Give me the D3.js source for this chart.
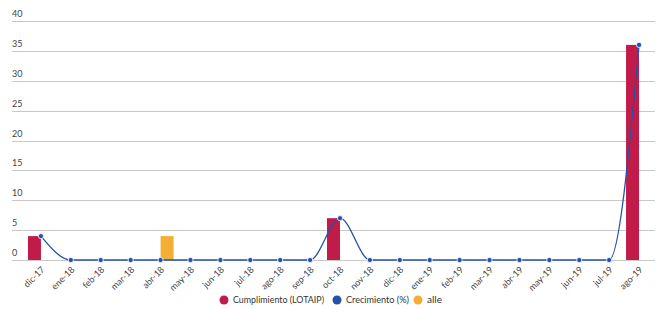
<!DOCTYPE html>
<html>
<head>
<meta charset="utf-8">
<script src="https://cdn.jsdelivr.net/npm/d3@7"></script>
<style>
  body { margin: 0; background: #fff; }
  text { font-family: Lato, "Open Sans", sans-serif; }
</style>
</head>
<body>
<div id="chart"></div>
<script>
const width = 661;
const height = 309;

const months = ["dic-17", "ene-18", "feb-18", "mar-18", "abr-18", "may-18", "jun-18", "jul-18",
  "ago-18", "sep-18", "oct-18", "nov-18", "dic-18", "ene-19", "feb-19", "mar-19", "abr-19",
  "may-19", "jun-19", "jul-19", "ago-19"];
const cumplimiento = [4, 0, 0, 0, 0, 0, 0, 0, 0, 0, 7, 0, 0, 0, 0, 0, 0, 0, 0, 0, 36];
const crecimiento = [4, 0, 0, 0, 0, 0, 0, 0, 0, 0, 7, 0, 0, 0, 0, 0, 0, 0, 0, 0, 36];
const alle = [0, 0, 0, 0, 4, 0, 0, 0, 0, 0, 0, 0, 0, 0, 0, 0, 0, 0, 0, 0, 0];
const yTicks = [0, 5, 10, 15, 20, 25, 30, 35, 40];

const red = "#c11b4a";
const blue = "#2552a8";
const orange = "#f4ad35";

const x = d3.scaleBand().domain(months).range([26, 654]);
const y = d3.scaleLinear().domain([0, 40]).range([260, 21]);
const barW = 13;

const svg = d3.select("#chart").append("svg")
  .attr("width", width)
  .attr("height", height);

// grid + y labels
const grid = svg.append("g");
grid.selectAll("line")
  .data(yTicks)
  .enter()
  .append("line")
  .attr("x1", 12)
  .attr("x2", 655)
  .attr("y1", d => Math.round(y(d)) + 0.5)
  .attr("y2", d => Math.round(y(d)) + 0.5)
  .attr("stroke", "#c8c8c8")
  .attr("stroke-width", 1);
grid.selectAll("text")
  .data(yTicks)
  .enter()
  .append("text")
  .attr("x", 12)
  .attr("y", d => y(d) - 4)
  .attr("font-size", 9)
  .attr("fill", "#444")
  .text(d => d);

// bars
svg.append("g").selectAll("rect")
  .data(cumplimiento)
  .enter()
  .append("rect")
  .attr("x", (d, i) => x(months[i]) + x.bandwidth() / 2 - barW)
  .attr("y", d => y(d))
  .attr("width", barW)
  .attr("height", d => y(0) - y(d))
  .attr("fill", red);

svg.append("g").selectAll("rect")
  .data(alle)
  .enter()
  .append("rect")
  .attr("x", (d, i) => x(months[i]) + x.bandwidth() / 2)
  .attr("y", d => y(d))
  .attr("width", barW)
  .attr("height", d => y(0) - y(d))
  .attr("fill", orange);

// line
const line = d3.line()
  .x((d, i) => x(months[i]) + x.bandwidth() / 2)
  .y(d => y(d))
  .curve(d3.curveMonotoneX);

svg.append("path")
  .datum(crecimiento)
  .attr("d", line)
  .attr("fill", "none")
  .attr("stroke", blue)
  .attr("stroke-width", 1.3);

svg.append("g").selectAll("circle")
  .data(crecimiento)
  .enter()
  .append("circle")
  .attr("cx", (d, i) => x(months[i]) + x.bandwidth() / 2)
  .attr("cy", d => y(d))
  .attr("r", 2.6)
  .attr("fill", blue)
  .attr("stroke", "#fff")
  .attr("stroke-width", 0.8);

// x labels
svg.append("g").selectAll("text")
  .data(months)
  .enter()
  .append("text")
  .attr("transform", d => `translate(${x(d) + x.bandwidth() / 2 + 2}, 268) rotate(-45)`)
  .attr("text-anchor", "end")
  .attr("dy", "0.35em")
  .attr("font-size", 9)
  .attr("fill", "#444")
  .text(d => d);

// legend
const legendItems = [
  { label: "Cumplimiento (LOTAIP)", color: red, x: 224, w: 91 },
  { label: "Crecimiento (%)", color: blue, x: 337, w: 63 },
  { label: "alle", color: orange, x: 418, w: 15 }
];
const legend = svg.append("g");
legendItems.forEach(item => {
  legend.append("circle")
    .attr("cx", item.x)
    .attr("cy", 300)
    .attr("r", 4.5)
    .attr("fill", item.color);
  legend.append("text")
    .attr("x", item.x + 9)
    .attr("y", 300)
    .attr("dy", "0.35em")
    .attr("font-size", 9.5)
    .attr("fill", "#333")
    .attr("textLength", item.w)
    .attr("lengthAdjust", "spacingAndGlyphs")
    .text(item.label);
});
</script>
</body>
</html>
